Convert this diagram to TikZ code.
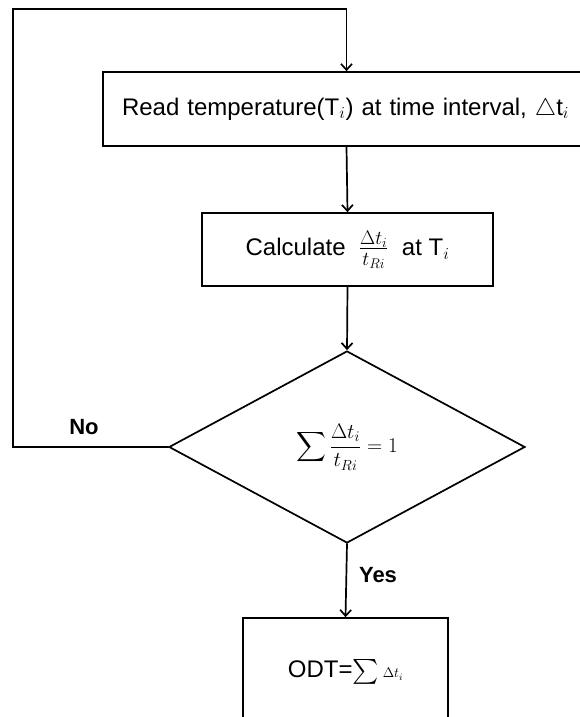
\RequirePackage{fix-cm}
\documentclass[tikz,border=0pt]{standalone}
\usepackage{exscale}
\usepackage{amsmath}
\usepackage{fontspec}
\setmainfont{Liberation Sans}
\usetikzlibrary{shapes.geometric,arrows.meta}
\begin{document}
\begin{tikzpicture}[x=1pt,y=1pt,line width=1.7pt,line cap=round,line join=miter,
  >={Straight Barb[length=6pt,width=11pt]},
  stepbox/.style={draw,rectangle,inner sep=0pt,font=\fontsize{24}{28}\selectfont},
  decide/.style={draw,diamond,inner sep=0pt,minimum width=356,minimum height=192},
  answer/.style={font=\fontsize{22}{26}\selectfont\bfseries}]
\useasboundingbox (0,0) rectangle (579,717);
\node[stepbox,minimum width=487,minimum height=74,text width=449,align=left] (read) at (346.5,608)
  {Read temperature(T$_i$) at time interval, $\triangle$t$_i$};
\node[stepbox,minimum width=291,minimum height=73] (calc) at (347.5,467.5)
  {Calculate \ {\fontsize{28}{30}\selectfont$\frac{\Delta t_i}{t_{Ri}}$} \ at T$_i$};
\node[decide] (dec) at (347,270)
  {\fontsize{21}{25}\selectfont$\displaystyle\sum\frac{\Delta t_i}{t_{Ri}}=1$};
\node[stepbox,minimum width=205,minimum height=108] (odt) at (345.5,45)
  {ODT=$\sum$\,{\fontsize{14}{16}\selectfont$\Delta t_i$}};
\coordinate (lowleft) at (13,270);
\coordinate (topleft) at (13,708);
\draw[->] (read.south) -- (calc.north);
\draw[->] (calc.south) -- (dec.north);
\draw[->] (dec.south) -- (odt.north);
\draw[->] (dec.west) -- (lowleft) -- (topleft) -| (read.north);
\node[answer] (no) at (84,290) {No};
\node[answer] (yes) at (378,142) {Yes};
\end{tikzpicture}
\end{document}
